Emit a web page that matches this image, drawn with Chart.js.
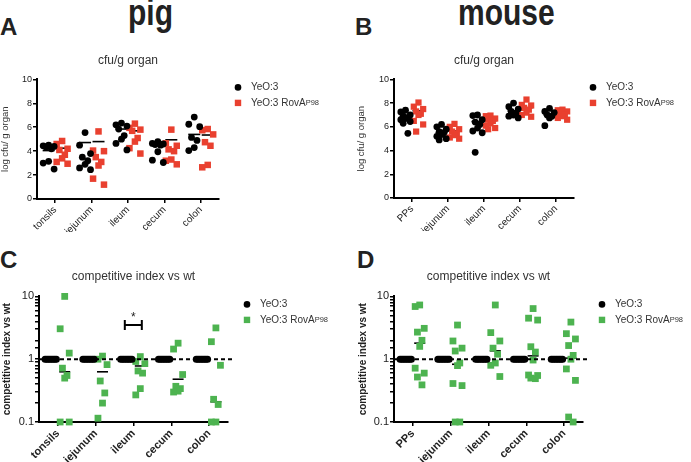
<!DOCTYPE html>
<html>
<head>
<meta charset="utf-8">
<script src="https://cdn.jsdelivr.net/npm/chart.js@4.4.1/dist/chart.umd.min.js"></script>
<style>
  body { margin: 0; background: #fff; font-family: "Liberation Sans", Arial, sans-serif; }
  #fig { position: relative; width: 691px; height: 462px; overflow: hidden; }
  #fig canvas { position: absolute; }
  .lbl { position: absolute; font-weight: bold; color: #222; line-height: 1; white-space: nowrap; }
  .head { font-size: 30px; transform: scaleY(1.2); transform-origin: 0 25.4px; }
</style>
</head>
<body>
<div id="fig">
  <div class="lbl head" style="left:128px; top:0px;">pig</div>
  <div class="lbl head" style="left:458px; top:0px;">mouse</div>
  <div class="lbl" style="left:0px; top:15px; font-size:24px;">A</div>
  <div class="lbl" style="left:355px; top:15px; font-size:24px;">B</div>
  <div class="lbl" style="left:0px; top:248px; font-size:24px;">C</div>
  <div class="lbl" style="left:357px; top:248px; font-size:24px;">D</div>
  <canvas id="pigCfu" width="345" height="187" style="left:0px; top:45px;"></canvas>
  <canvas id="mouseCfu" width="346" height="186" style="left:345px; top:45px;"></canvas>
  <canvas id="pigCi" width="345" height="200" style="left:0px; top:262px;"></canvas>
  <canvas id="mouseCi" width="346" height="200" style="left:345px; top:262px;"></canvas>
</div>
<script>
const FONT = '"Liberation Sans", Arial, sans-serif';
Chart.defaults.font.family = FONT;
Chart.defaults.color = '#222';

// categories
const pigOrgans = ['tonsils', 'jejunum', 'ileum', 'cecum', 'colon'];
const mouseOrgans = ['PPs', 'jejunum', 'ileum', 'cecum', 'colon'];

const wtLabel = 'YeO:3';
const mutLabel = 'YeO:3 RovAP98';

// A - pig, log cfu/g organ (one array per organ)
const pigWt = [
    [4.5, 4.45, 4.4, 4.35, 4.2, 3.15, 3.0, 2.5],
    [5.55, 4.5, 3.8, 3.5, 3.2, 2.9, 2.6, 2.45],
    [6.35, 6.2, 6.1, 5.85, 5.3, 5.0, 4.65, 4.1],
    [4.8, 4.65, 4.6, 4.55, 4.5, 3.95, 3.25, 3.05],
    [6.85, 6.25, 6.05, 5.15, 4.9, 4.3, 4.05]
];
const pigMut = [
    [4.85, 4.6, 4.2, 4.1, 3.7, 3.4, 3.1, 2.95],
    [5.65, 4.05, 4.0, 3.5, 3.1, 2.8, 1.7, 1.2],
    [6.3, 5.95, 5.8, 5.7, 5.1, 4.8, 4.25, 3.8],
    [5.8, 4.65, 4.45, 4.15, 4.0, 3.3, 3.2, 2.9],
    [5.85, 5.75, 5.4, 4.75, 4.45, 2.85, 2.65]
];
const pigWtMean = [4.05, 4.72, 5.85, 4.45, 5.4];
const pigMutMean = [4.25, 4.8, 5.7, 4.95, 5.35];

// B - mouse, log cfu/g organ
const mouseWt = [
    [7.4, 7.25, 7.0, 6.9, 6.8, 6.7, 6.6, 6.45, 6.3, 5.45],
    [6.2, 6.0, 5.8, 5.6, 5.5, 5.35, 5.2, 5.0, 4.9],
    [7.0, 6.95, 6.6, 6.4, 6.2, 5.9, 5.65, 5.5, 3.85],
    [8.0, 7.7, 7.5, 7.3, 7.15, 7.0, 6.9, 6.75],
    [7.55, 7.3, 7.2, 7.0, 6.9, 6.75, 6.1]
];
const mouseMut = [
    [8.05, 7.7, 7.5, 7.3, 7.1, 7.0, 6.5, 6.2, 5.6],
    [6.25, 6.0, 5.8, 5.6, 5.45, 5.3, 5.1, 5.0],
    [6.95, 6.9, 6.7, 6.6, 6.5, 6.3, 6.1, 5.9, 5.8],
    [8.3, 7.85, 7.8, 7.6, 7.45, 7.2, 7.0, 6.85],
    [7.45, 7.4, 7.3, 7.15, 7.0, 6.9, 6.75, 6.6]
];
const mouseWtMean = [6.8, 5.5, 6.45, 7.35, 7.0];
const mouseMutMean = [7.35, 5.65, 6.5, 7.6, 7.15];

// C / D - competitive index vs wt (wt is 1 by definition)
const ciWt = [1, 1, 1, 1, 1, 1, 1, 1];
const ciPig = [
    [10, 3.05, 1.25, 0.72, 0.55, 0.5, 0.1, 0.1],
    [1.12, 1.0, 0.82, 0.45, 0.29, 0.2, 0.115],
    [1.1, 0.92, 0.85, 0.65, 0.6, 0.34, 0.27],
    [1.8, 1.45, 0.57, 0.37, 0.34, 0.31, 0.3],
    [3.15, 1.9, 0.8, 0.23, 0.19, 0.1, 0.1]
];
const ciPigMean = [0.63, 0.63, 0.78, 0.48, 0.21];
const ciMouse = [
    [7.3, 6.9, 3.1, 2.7, 2.0, 1.6, 0.72, 0.6, 0.52, 0.39],
    [3.5, 1.95, 1.5, 1.35, 0.87, 0.79, 0.41, 0.38, 0.1, 0.1],
    [7.3, 2.65, 1.95, 1.5, 1.2, 0.87, 0.8, 0.53],
    [6.4, 4.5, 4.2, 1.58, 1.3, 0.97, 0.56, 0.55, 0.5, 0.49],
    [3.9, 2.55, 2.1, 1.65, 1.15, 1.0, 0.7, 0.46, 0.12, 0.1]
];
const ciMouseMean = [1.8, 0.83, 1.36, 1.13, 1.04];
const ciRef = [1, 1];          // dashed line at ratio 1
const pigSignificant = { organ: 3, value: 3.5, star: '*' };

const BLACK = '#000000';
const RED = '#e9402f';
const GREEN = '#4db350';

// spread the points of a group sideways, like the prism scatter
const SPREAD = [0, -1, 1, -0.5, 0.5];
function scatterPoints(groups, shift, width) {
    const pts = [];
    groups.forEach((vals, i) => {
        vals.forEach((v, k) => pts.push({ x: i + 1 + shift + SPREAD[k % 5] * width, y: v }));
    });
    return pts;
}
// wt points (all 1) sit in a row
function rowPoints(vals, count, shift, width) {
    const pts = [];
    for (let i = 0; i < count; i++) {
        vals.forEach((v, k) => pts.push({ x: i + 1 + shift + (k / (vals.length - 1) - 0.5) * width, y: v }));
    }
    return pts;
}
function meanPoints(means, shift) {
    return means.map((m, i) => ({ x: i + 1 + shift, y: m }));
}

function pointSet(label, data, style, color, radius) {
    return {
        label: label, data: data, inLegend: true,
        pointStyle: style, pointRadius: radius, pointHoverRadius: radius,
        backgroundColor: color, pointBackgroundColor: color, borderColor: color,
        pointBorderWidth: 0, showLine: false, clip: false
    };
}
function meanSet(data, radius) {
    return {
        label: 'mean', data: data,
        pointStyle: 'line', pointRadius: radius, pointHoverRadius: radius,
        borderColor: '#000', pointBorderColor: '#000', pointBorderWidth: 1.6,
        showLine: false, clip: false
    };
}

// legend to the right of the plot, small caps for P98
const sideLegend = {
    id: 'sideLegend',
    afterDraw(chart, args, opts) {
        const { ctx, chartArea } = chart;
        const x0 = chartArea.right + opts.dx;
        let y = chartArea.top + opts.dy;
        ctx.save();
        ctx.textBaseline = 'middle';
        chart.data.datasets.forEach(ds => {
            if (!ds.inLegend) return;
            ctx.fillStyle = ds.backgroundColor;
            if (ds.pointStyle === 'rect') {
                ctx.fillRect(x0 - 3.2, y - 3.2, 6.4, 6.4);
            } else {
                ctx.beginPath();
                ctx.arc(x0, y, 3.3, 0, Math.PI * 2);
                ctx.fill();
            }
            ctx.fillStyle = '#333';
            const m = ds.label.match(/^(.*RovA)(P98)$/);
            ctx.font = '10px ' + FONT;
            if (m) {
                ctx.fillText(m[1], x0 + 13, y);
                const w = ctx.measureText(m[1]).width;
                ctx.font = '7.5px ' + FONT;
                ctx.fillText(m[2], x0 + 13 + w, y + 0.5);
            } else {
                ctx.fillText(ds.label, x0 + 13, y);
            }
            y += opts.gap;
        });
        ctx.restore();
    }
};

// significance bracket with star
const sigBracket = {
    id: 'sigBracket',
    afterDatasetsDraw(chart, args, opts) {
        if (!opts || !opts.organ) return;
        const { ctx, scales } = chart;
        const x1 = scales.x.getPixelForValue(opts.organ - 0.23);
        const x2 = scales.x.getPixelForValue(opts.organ + 0.22);
        const y = scales.y.getPixelForValue(opts.value);
        ctx.save();
        ctx.strokeStyle = '#000';
        ctx.lineWidth = 2;
        ctx.beginPath();
        ctx.moveTo(x1, y - 5); ctx.lineTo(x1, y + 5);
        ctx.moveTo(x1, y); ctx.lineTo(x2, y);
        ctx.moveTo(x2, y - 5); ctx.lineTo(x2, y + 5);
        ctx.stroke();
        ctx.fillStyle = '#222';
        ctx.font = '12px ' + FONT;
        ctx.textAlign = 'center';
        ctx.textBaseline = 'middle';
        ctx.fillText(opts.star, (x1 + x2) / 2, y - 7);
        ctx.restore();
    }
};

const axisGrid = { drawOnChartArea: false, drawTicks: true, tickLength: 4, color: '#000', lineWidth: 1.5 };
const axisBorder = { display: true, color: '#000', width: 2 };

function xAxis(cats, bold, height) {
    return {
        type: 'linear', min: 0.5, max: 5.5,
        afterBuildTicks: s => { s.ticks = cats.map((c, i) => ({ value: i + 1 })); },
        afterFit: s => { s.height = height; },
        ticks: {
            autoSkip: false, minRotation: 45, maxRotation: 45, padding: 1, color: '#222',
            font: { size: bold ? 11 : 10, weight: bold ? 'bold' : 'normal' },
            callback: v => cats[Math.round(v) - 1]
        },
        grid: axisGrid,
        border: axisBorder
    };
}

function cfuY(width, titlePad) {
    return {
        type: 'linear', min: 0, max: 10,
        afterFit: s => { s.width = width; },
        ticks: { stepSize: 1, padding: 1, color: '#222', font: { size: 9 } },
        title: { display: true, text: 'log cfu/ g organ', color: '#333', font: { size: 9.5 }, padding: { top: titlePad, bottom: 0 } },
        grid: axisGrid,
        border: axisBorder
    };
}

function ciY(width, titlePad) {
    return {
        type: 'logarithmic', min: 0.1, max: 10,
        afterFit: s => { s.width = width; },
        ticks: {
            autoSkip: false, padding: 1, color: '#222', font: { size: 11 },
            callback: v => Math.abs(Math.log10(v) - Math.round(Math.log10(v))) < 1e-6 ? String(v) : ''
        },
        title: { display: true, text: 'competitive index vs wt', color: '#222', font: { size: 10, weight: 'bold' }, padding: { top: titlePad, bottom: 0 } },
        grid: axisGrid,
        border: axisBorder
    };
}

function makeChart(id, datasets, title, titlePad, scales, padRight, pluginOpts) {
    return new Chart(document.getElementById(id), {
        type: 'scatter',
        data: { datasets: datasets },
        plugins: [sideLegend, sigBracket],
        options: {
            responsive: false,
            animation: false,
            events: [],
            layout: { padding: { left: 0, right: padRight, top: 0, bottom: 0 } },
            scales: scales,
            plugins: {
                legend: { display: false },
                tooltip: { enabled: false },
                title: {
                    display: true, text: title, fullSize: false, color: '#333',
                    font: { size: 12, weight: 'normal' }, padding: titlePad
                },
                sideLegend: { dx: 19, dy: 8, gap: 15.5 },
                sigBracket: pluginOpts || {}
            }
        }
    });
}

// A
makeChart('pigCfu', [
    pointSet(wtLabel, scatterPoints(pigWt, -0.18, 0.15), 'circle', BLACK, 3.4),
    pointSet(mutLabel, scatterPoints(pigMut, 0.19, 0.15), 'rect', RED, 4.6),
    meanSet(meanPoints(pigWtMean, -0.18), 6),
    meanSet(meanPoints(pigMutMean, 0.19), 6)
], 'cfu/g organ', { top: 8, bottom: 12 }, { x: xAxis(pigOrgans, false, 33), y: cfuY(37, 0) }, 126);

// B
makeChart('mouseCfu', [
    pointSet(wtLabel, scatterPoints(mouseWt, -0.18, 0.13), 'circle', BLACK, 3.4),
    pointSet(mutLabel, scatterPoints(mouseMut, 0.18, 0.13), 'rect', RED, 4.4),
    meanSet(meanPoints(mouseWtMean, -0.18), 6),
    meanSet(meanPoints(mouseMutMean, 0.18), 6)
], 'cfu/g organ', { top: 8, bottom: 12 }, { x: xAxis(mouseOrgans, false, 33), y: cfuY(49, 11) }, 117);

function refLine() {
    return {
        label: 'ref', data: [{ x: 0.5, y: ciRef[0] }, { x: 5.62, y: ciRef[1] }],
        showLine: true, borderColor: '#000', borderWidth: 2, borderDash: [4, 3],
        pointRadius: 0, clip: false
    };
}

// C
makeChart('pigCi', [
    refLine(),
    pointSet(wtLabel, rowPoints(ciWt, 5, -0.19, 0.3), 'circle', BLACK, 3.5),
    pointSet(mutLabel, scatterPoints(ciPig, 0.18, 0.12), 'rect', GREEN, 4.8),
    meanSet(meanPoints(ciPigMean, 0.18), 5.5)
], 'competitive index vs wt', { top: 7, bottom: 13 }, { x: xAxis(pigOrgans, true, 40), y: ciY(39, 1) }, 117, pigSignificant);

// D
makeChart('mouseCi', [
    refLine(),
    pointSet(wtLabel, rowPoints(ciWt, 5, -0.19, 0.3), 'circle', BLACK, 3.5),
    pointSet(mutLabel, scatterPoints(ciMouse, 0.18, 0.12), 'rect', GREEN, 4.8),
    meanSet(meanPoints(ciMouseMean, 0.18), 5.5)
], 'competitive index vs wt', { top: 7, bottom: 13 }, { x: xAxis(mouseOrgans, true, 40), y: ciY(49, 12) }, 108);
</script>
</body>
</html>
